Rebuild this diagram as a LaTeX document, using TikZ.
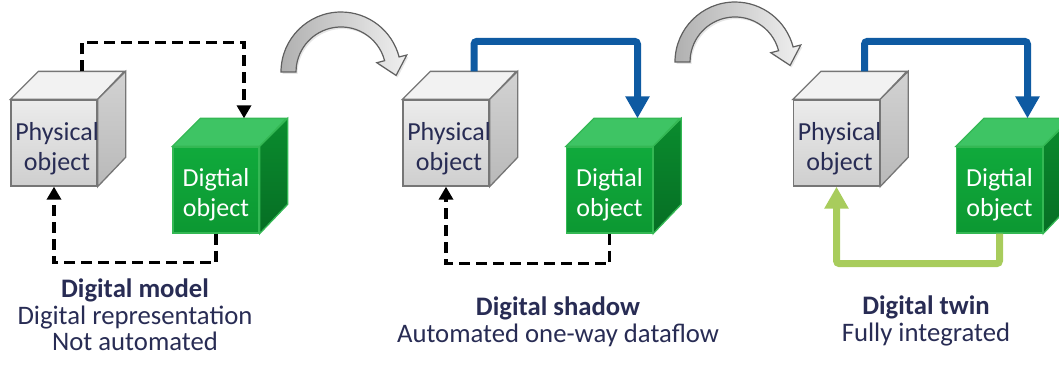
\documentclass[tikz,border=0pt]{standalone}
\usepackage{fontspec}
\setmainfont{Carlito}
\usetikzlibrary{arrows.meta, shadows, calc}
\definecolor{mytextnavy}{RGB}{40, 44, 84}
\definecolor{myflowblue}{RGB}{14, 90, 162}
\definecolor{myfeedgreen}{RGB}{168, 204, 92}
\definecolor{mygrayedge}{RGB}{118, 118, 118}
\definecolor{mygreenedge}{RGB}{52, 184, 84}
\newcommand{\cubefaces}[3]{%
  \draw[#2] (#1.north west) -- ++(28,-28) -- ++(86,0) -- (#1.north east) -- cycle;
  \draw[#3] (#1.north east) -- ++(28,-28) -- ++(0,86) -- (#1.south east) -- cycle;
  \coordinate (#1-top) at ($(#1.north)+(28,-28)$);
}

\begin{document}
\begin{tikzpicture}[x=1pt, y=-1pt,
  face/.style={draw, line width=1.3pt, minimum width=86pt, minimum height=86pt, inner sep=0pt},
  cubetext/.style={align=center, inner sep=0pt, font=\fontsize{26}{30}\selectfont},
  physface/.style={face, draw=mygrayedge, top color=gray!15, bottom color=gray!38},
  physlid/.style={draw=mygrayedge, line width=1.3pt, fill=gray!10},
  physside/.style={draw=mygrayedge, line width=1.3pt, top color=gray!35, bottom color=gray!55},
  digface/.style={face, draw=mygreenedge, top color={rgb,255:red,16;green,170;blue,60}, bottom color={rgb,255:red,12;green,152;blue,50}},
  diglid/.style={draw=mygreenedge, line width=1.3pt, fill={rgb,255:red,62;green,196;blue,100}},
  digside/.style={draw=mygreenedge, line width=1.3pt, top color={rgb,255:red,10;green,140;blue,46}, bottom color={rgb,255:red,6;green,110;blue,36}},
  manual/.style={draw=black, line width=3.6pt, dash pattern=on 11pt off 6pt, -{Triangle[length=13pt, width=14pt]}},
  autoflow/.style={draw=myflowblue, line width=7pt, rounded corners=3pt, -{Triangle[length=22pt, width=23pt]}},
  feedback/.style={draw=myfeedgreen, line width=7pt, rounded corners=3pt, -{Triangle[length=22pt, width=23pt]}},
  caption/.style={anchor=north, inner sep=0pt, align=center, text=mytextnavy, font=\fontsize{26.7}{26.5}\selectfont},
  bendarrow/.pic={
    \draw[draw=gray!75!black, line width=1.2pt, left color=gray!62, right color=gray!12,
          drop shadow={shadow xshift=1.5pt, shadow yshift=-2pt, opacity=0.2}]
      (-60,0) arc[start angle=180, end angle=345.5, radius=60]
      -- (65.8,-17.0) -- (55.1,3.4) -- (35.8,-9.3) -- (43.6,-11.3)
      arc[start angle=345.5, end angle=180, radius=45] -- cycle;
  }]
  \clip (0,0) rectangle (1059,364);

  % step arrows
  \pic at (341,72) {bendarrow};
  \pic at (735,62) {bendarrow};

  % digital model
  \node [physface, label={[cubetext, text=mytextnavy, xshift=3pt, yshift=-6pt]center:Physical\\object}] (phys1) at (54,143) {};
  \cubefaces{phys1}{physlid}{physside}
  \node [digface, label={[cubetext, text=white, yshift=-5pt]center:Digtial\\object}] (dig1) at (216,190) {};
  \cubefaces{dig1}{diglid}{digside}
  \draw [manual] (phys1-top) -- ++(0,-29) -| (dig1-top);
  \draw [manual] (dig1.south) -- ++(0,29) -| (phys1.south);
  \node [caption] (model) at (135,279) {\textbf{Digital model}\\Digital representation\\Not automated};

  % digital shadow
  \node [physface, label={[cubetext, text=mytextnavy, xshift=3pt, yshift=-6pt]center:Physical\\object}] (phys2) at (446,143) {};
  \cubefaces{phys2}{physlid}{physside}
  \node [digface, label={[cubetext, text=white, yshift=-5pt]center:Digtial\\object}] (dig2) at (609.5,190) {};
  \cubefaces{dig2}{diglid}{digside}
  \draw [autoflow] (phys2-top) -- ++(0,-30) -| (dig2-top);
  \draw [manual] (dig2.south) -- ++(0,30) -| (phys2.south);
  \node [caption, font=\fontsize{26.7}{27}\selectfont] (shadow) at (558,297) {\textbf{Digital shadow}\\Automated one-way dataflow};

  % digital twin
  \node [physface, label={[cubetext, text=mytextnavy, xshift=3pt, yshift=-6pt]center:Physical\\object}] (phys3) at (836.5,143) {};
  \cubefaces{phys3}{physlid}{physside}
  \node [digface, label={[cubetext, text=white, yshift=-5pt]center:Digtial\\object}] (dig3) at (999.5,190) {};
  \cubefaces{dig3}{diglid}{digside}
  \draw [autoflow] (phys3-top) -- ++(0,-30) -| (dig3-top);
  \draw [feedback] (dig3.south) -- ++(0,30) -| (phys3.south);
  \node [caption, font=\fontsize{26.7}{27}\selectfont] (twin) at (926,296) {\textbf{Digital twin}\\Fully integrated};
\end{tikzpicture}
\end{document}
